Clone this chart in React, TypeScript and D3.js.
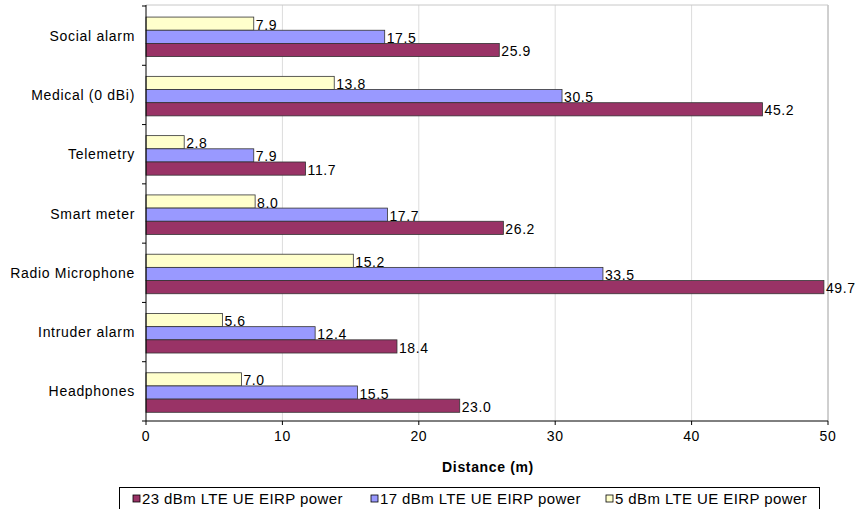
import React from "react";
import * as d3 from "d3";

const categories = ["Social alarm", "Medical (0 dBi)", "Telemetry", "Smart meter", "Radio Microphone", "Intruder alarm", "Headphones"];
const seriesNames = ["5 dBm LTE UE EIRP power", "17 dBm LTE UE EIRP power", "23 dBm LTE UE EIRP power"];
const s5 = [7.9, 13.8, 2.8, 8.0, 15.2, 5.6, 7.0];
const s17 = [17.5, 30.5, 7.9, 17.7, 33.5, 12.4, 15.5];
const s23 = [25.9, 45.2, 11.7, 26.2, 49.7, 18.4, 23.0];
const xTicks = [0, 10, 20, 30, 40, 50];
const legendOrder = [2, 1, 0];

const colors = ["#FFFFCC", "#9999FF", "#993366"];
const seriesValues = [s5, s17, s23];

export default function App() {
  const W = 863, H = 509;
  const left = 146, right = 828, top = 6, bottom = 421;
  const x = d3.scaleLinear().domain([0, 50]).range([left, right]);
  const y = d3.scaleBand().domain(categories).range([top, bottom]);
  const inner = d3.scaleBand().domain(["0", "1", "2"]).range([0, y.bandwidth()]).paddingOuter(0.75).paddingInner(0).align(0.56);
  const font = "'Liberation Sans', Arial, sans-serif";
  const legendX = [133, 371, 606];
  const ls = 0.6;
  return (
    <svg width={W} height={H} style={{ position: "absolute", left: 0, top: 0, fontFamily: font }}>
      <rect width={W} height={H} fill="#fff" />
      {xTicks.slice(1).map((t) => (
        <line key={t} x1={x(t)} x2={x(t)} y1={5} y2={bottom} stroke={t === 50 ? "#a0a0a0" : "#dcdcdc"} strokeWidth={1} />
      ))}
      <line x1={left} x2={right} y1={5} y2={5} stroke="#c8c8c8" />
      {categories.map((c, ci) => (
        <g key={c}>
          {seriesValues.map((vals, si) => {
            const yy = (y(c) as number) + (inner(String(si)) as number);
            return (
              <rect key={si} x={x(0)} y={yy} width={x(vals[ci]) - x(0)} height={inner.bandwidth()} fill={colors[si]} stroke="#333" strokeWidth={0.8} />
            );
          })}
          {seriesValues.map((vals, si) => {
            const yy = (y(c) as number) + (inner(String(si)) as number);
            return (
              <text key={si} x={x(vals[ci]) + 2} y={yy + inner.bandwidth() - 0.5} fontSize={14} letterSpacing={ls} fill="#000">
                {vals[ci].toFixed(1)}
              </text>
            );
          })}
          <text x={135} y={(y(c) as number) + y.bandwidth() / 2 + 5} fontSize={14} letterSpacing={0.7} textAnchor="end" fill="#000">
            {c}
          </text>
        </g>
      ))}
      {categories.map((c) => (
        <line key={"t" + c} x1={left - 4} x2={left} y1={y(c)} y2={y(c)} stroke="#000" />
      ))}
      <line x1={left - 4} x2={left} y1={bottom} y2={bottom} stroke="#000" />
      <line x1={left} x2={left} y1={5} y2={bottom} stroke="#000" />
      <line x1={left} x2={right} y1={bottom} y2={bottom} stroke="#000" />
      {xTicks.map((t) => (
        <g key={t}>
          <line x1={x(t)} x2={x(t)} y1={bottom} y2={bottom + 4} stroke="#000" />
          <text x={x(t)} y={441} fontSize={14} letterSpacing={ls} textAnchor="middle">{t}</text>
        </g>
      ))}
      <text x={(left + right) / 2 + 1} y={472} fontSize={14} letterSpacing={0.65} fontWeight="bold" textAnchor="middle">Distance (m)</text>
      <rect x={119.5} y={487.5} width={700} height={22} fill="#fff" stroke="#000" />
      {legendOrder.map((si, i) => (
        <g key={si}>
          <rect x={legendX[i]} y={495} width={7} height={7} fill={colors[si]} stroke="#000" strokeWidth={0.8} />
          <text x={legendX[i] + 9} y={504} fontSize={15} letterSpacing={0.4}>{seriesNames[si]}</text>
        </g>
      ))}
    </svg>
  );
}
